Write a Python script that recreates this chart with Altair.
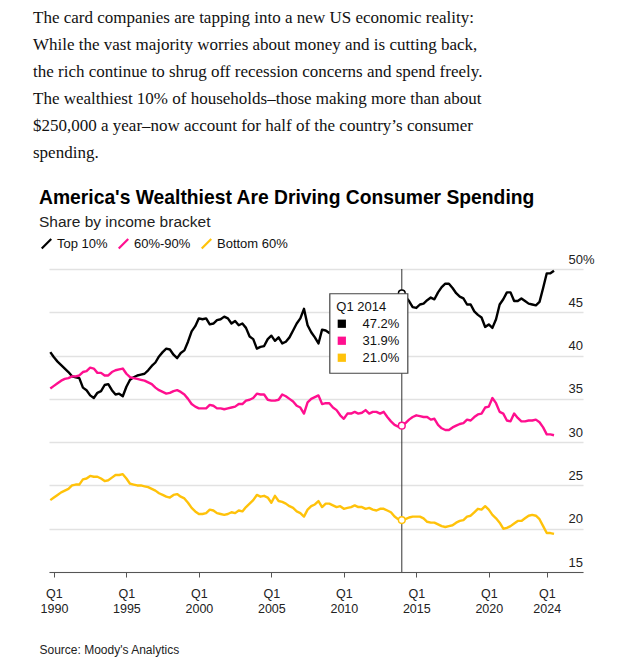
import altair as alt
import pandas as pd

PARAGRAPH = [
    "The card companies are tapping into a new US economic reality:",
    "While the vast majority worries about money and is cutting back,",
    "the rich continue to shrug off recession concerns and spend freely.",
    "The wealthiest 10% of households\u2013those making more than about",
    "$250,000 a year\u2013now account for half of the country\u2019s consumer",
    "spending.",
]
TITLE = "America's Wealthiest Are Driving Consumer Spending"
SUBTITLE = "Share by income bracket"
SOURCE = "Source: Moody's Analytics"

SERIES = ["Top 10%", "60%-90%", "Bottom 60%"]
COLORS = ["#000000", "#ff0f8f", "#ffc20a"]

START_YEAR, START_Q = 1989, 4
HOVER = "Q1 2014"
X_TICKS = [1990, 1995, 2000, 2005, 2010, 2015, 2020, 2024]
Y_TICKS = [15, 20, 25, 30, 35, 40, 45, 50]

# quarterly shares (%), Q4 1989 .. Q3 2024
TOP10 = (
    [40.4]
    + [39.8, 39.3, 38.9, 38.5] + [38.1, 37.6, 37.5, 37.4] + [36.3, 36.0, 35.4, 35.1]
    + [35.7, 35.9, 36.6, 36.7] + [36.0, 35.5, 35.6, 35.3] + [36.4, 37.2, 37.5, 37.7]
    + [37.8, 37.9, 38.3, 38.8] + [39.2, 39.9, 40.4, 40.8] + [40.7, 40.1, 39.7, 40.3]
    + [40.6, 41.6, 42.8, 43.4] + [44.3, 44.2, 44.3, 43.6] + [43.7, 44.1, 44.2, 44.5]
    + [44.3, 43.7, 44.0, 43.5] + [43.7, 43.2, 42.2, 41.9] + [40.8, 41.0, 41.1, 41.9]
    + [42.3, 41.7, 42.1, 41.4] + [41.6, 42.1, 42.9, 43.7] + [44.3, 45.4, 43.5, 42.7]
    + [42.1, 41.4, 43.0, 42.9] + [42.6, 42.9, 43.3, 43.1] + [43.6, 44.0, 43.8, 44.3]
    + [44.6, 44.4, 44.9, 45.3] + [45.1, 45.5, 45.9, 45.7] + [46.1, 46.4, 46.3, 46.8]
    + [47.2, 46.8, 46.3, 45.6] + [45.5, 45.9, 46.0, 46.4] + [46.7, 46.5, 47.3, 47.9]
    + [48.3, 48.3, 47.8, 47.2] + [46.8, 46.6, 45.9, 45.9] + [45.1, 44.7, 44.4, 43.3]
    + [43.6, 43.2, 44.2, 45.9] + [46.5, 47.3, 47.3, 46.3] + [46.3, 46.6, 46.3, 46.0]
    + [45.9, 45.8, 46.2, 47.8] + [49.5, 49.5, 49.8]
)
MID = (
    [36.2]
    + [36.5, 36.8, 37.1, 37.3] + [37.4, 37.6, 37.6, 37.7] + [38.1, 38.2, 38.6, 38.5]
    + [38.0, 38.0, 37.7, 37.7] + [38.1, 38.3, 38.4, 38.5] + [37.9, 37.5, 37.4, 37.3]
    + [37.2, 37.1, 36.9, 36.7] + [36.3, 36.0, 35.8, 35.6] + [35.7, 35.9, 36.0, 35.8]
    + [35.5, 35.0, 34.4, 34.1] + [33.9, 33.9, 33.9, 34.3] + [34.2, 33.9, 33.9, 33.8]
    + [33.9, 34.0, 34.1, 34.4] + [34.4, 34.8, 34.9, 35.1] + [35.6, 35.5, 35.5, 34.9]
    + [34.8, 34.8, 34.9, 35.5] + [35.3, 35.0, 34.7, 34.2] + [34.0, 33.3, 34.6, 35.0]
    + [35.2, 35.4, 34.4, 34.5] + [34.5, 34.0, 33.7, 33.1] + [32.7, 33.3, 33.3, 33.5]
    + [33.3, 33.4, 33.7, 33.3] + [33.5, 33.5, 33.3, 33.5] + [32.9, 32.4, 32.0, 31.8]
    + [31.9, 32.2, 32.6, 32.9] + [33.1, 33.0, 32.9, 32.9] + [32.6, 32.7, 32.0, 31.6]
    + [31.4, 31.4, 31.7, 31.9] + [32.1, 32.2, 32.6, 32.5] + [32.9, 33.2, 33.3, 34.0]
    + [34.1, 35.1, 34.5, 33.5] + [33.3, 32.5, 32.4, 33.3] + [32.8, 32.4, 32.4, 32.5]
    + [32.5, 32.6, 32.3, 31.7] + [30.9, 30.9, 30.8]
)
BOTTOM = (
    [23.3]
    + [23.6, 23.9, 24.2, 24.4] + [24.6, 25.0, 25.1, 25.1] + [25.7, 25.8, 26.1, 26.0]
    + [26.0, 25.8, 25.5, 25.6] + [25.9, 26.2, 26.2, 26.3] + [25.8, 25.2, 25.1, 25.0]
    + [25.0, 24.9, 24.8, 24.6] + [24.4, 24.1, 23.9, 23.7] + [23.6, 23.9, 24.0, 23.7]
    + [23.5, 23.0, 22.4, 22.0] + [21.7, 21.7, 21.8, 22.2] + [22.1, 21.8, 21.7, 21.6]
    + [21.7, 21.9, 21.8, 22.1] + [22.0, 22.5, 22.9, 23.3] + [23.9, 23.7, 23.8, 23.6]
    + [23.0, 23.8, 23.2, 23.1] + [22.9, 22.6, 22.4, 22.0] + [21.8, 21.4, 22.2, 22.6]
    + [22.8, 23.2, 22.5, 22.9] + [22.9, 22.7, 22.5, 22.6] + [22.3, 22.4, 22.5, 22.7]
    + [22.5, 22.5, 22.3, 22.4] + [22.2, 22.1, 22.3, 22.3] + [22.1, 21.9, 21.4, 21.1]
    + [21.0, 21.1, 21.3, 21.4] + [21.4, 21.4, 21.2, 20.8] + [20.7, 20.7, 20.5, 20.3]
    + [20.2, 20.3, 20.4, 20.7] + [20.9, 21.0, 21.4, 21.5] + [21.9, 22.3, 22.2, 22.6]
    + [22.2, 21.6, 21.2, 20.7] + [20.0, 20.1, 20.3, 20.6] + [20.9, 20.9, 21.2, 21.5]
    + [21.6, 21.5, 21.1, 20.3] + [19.5, 19.5, 19.4]
)

FONT = "Liberation Sans"

rows = []
for i in range(len(TOP10)):
    year, q = divmod(START_YEAR * 4 + (START_Q - 1) + i, 4)
    for name, vals in zip(SERIES, (TOP10, MID, BOTTOM)):
        rows.append({"t": year + q / 4, "quarter": f"Q{q + 1} {year}",
                     "series": name, "value": vals[i]})
df = pd.DataFrame(rows)

hov = df[df["quarter"] == HOVER].copy()
anchor = float(hov.loc[hov["series"] == SERIES[0], "value"].iloc[0])
hov["anchor"] = anchor
hov["text"] = hov["value"].map(lambda v: f"{v:.1f}%")
hov_one = hov[hov["series"] == SERIES[0]]

x_scale = alt.Scale(domain=[1989.66, 2026.5], nice=False, zero=False)
y_scale = alt.Scale(domain=[15, 50], nice=False, zero=False)

x_axis = alt.Axis(
    values=X_TICKS, format="d", labelExpr="['Q1', datum.label]",
    grid=False, domainColor="#555", domainWidth=1, tickColor="#555", tickSize=5,
    labelFont=FONT, labelFontSize=12.5, labelColor="#222", labelLineHeight=15.5,
    labelBaseline="top", labelPadding=10, labelFlush=False, labelOverlap=False,
    title=SOURCE, titleFont=FONT, titleFontSize=12, titleFontWeight="normal",
    titleColor="#222", titleAnchor="start", titleAlign="left", titleBaseline="middle",
    titleX=-10, titleY=77,
)
y_axis = alt.Axis(
    orient="right", values=Y_TICKS, title=None,
    labelExpr="datum.value == 50 ? '50%' : datum.label",
    domain=False, ticks=False, tickSize=0, grid=True, gridColor="#e2e2e2", gridWidth=1.3,
    labelAlign="left", labelPadding=-15, labelBaseline="alphabetic", labelOffset=-6,
    labelFont=FONT, labelFontSize=13, labelColor="#222", labelFlush=False, labelOverlap=False,
)

x_enc = alt.X("t:Q", scale=x_scale, axis=x_axis)
y_enc = alt.Y("value:Q", scale=y_scale, axis=y_axis)
ya_enc = alt.Y("anchor:Q", scale=y_scale, axis=y_axis)

legend = alt.Legend(
    title=None, orient="none", legendX=-9, legendY=-32, direction="horizontal",
    symbolType="M-1,1L1,-1", symbolSize=90, symbolStrokeWidth=2.2,
    labelFont=FONT, labelFontSize=13, labelColor="#111", labelOffset=4,
    columnPadding=6, padding=0,
)

lines = alt.Chart(df).mark_line(strokeWidth=2.4, strokeJoin="round").encode(
    x=x_enc, y=y_enc,
    color=alt.Color("series:N", scale=alt.Scale(domain=SERIES, range=COLORS), legend=legend),
)

rule = alt.Chart(hov_one).mark_rule(color="#333", strokeWidth=1).encode(x=x_enc)

circles = [
    alt.Chart(hov[hov["series"] == name]).mark_circle(
        fill="white", stroke=c, strokeWidth=1.5, size=45, opacity=1
    ).encode(x=x_enc, y=y_enc)
    for name, c in zip(SERIES, COLORS)
]

box = alt.Chart(hov_one).mark_rect(
    fill="white", stroke="#444", strokeWidth=1.2,
    xOffset=-72, x2Offset=6, yOffset=0.5, y2Offset=80,
).encode(x=x_enc, x2="t:Q", y=ya_enc, y2="anchor:Q")

head = alt.Chart(hov_one).mark_text(
    align="left", baseline="middle", dx=-65.5, dy=13.5, font=FONT, fontSize=13, color="#111"
).encode(x=x_enc, y=ya_enc, text="quarter:N")

tip_rows = []
for i, (name, c) in enumerate(zip(SERIES, COLORS)):
    sub = hov[hov["series"] == name]
    tip_rows.append(
        alt.Chart(sub).mark_square(size=68, color=c, opacity=1, xOffset=-60,
                                   yOffset=30.5 + 17 * i).encode(x=x_enc, y=ya_enc)
    )
    tip_rows.append(
        alt.Chart(sub).mark_text(align="right", baseline="middle", dx=-2.5,
                                 dy=30.5 + 17 * i, font=FONT, fontSize=13, color="#111"
                                 ).encode(x=x_enc, y=ya_enc, text="text:N")
    )

main = alt.layer(lines, rule, *circles, box, head, *tip_rows).properties(
    width=534, height=303,
    title=alt.TitleParams(
        text=TITLE, subtitle=SUBTITLE, font=FONT, fontSize=19.3, fontWeight="bold",
        color="#000", subtitleFont=FONT, subtitleFontSize=15.5, subtitleColor="#222",
        subtitlePadding=6, anchor="start", frame="group", dx=-10, offset=23,
    ),
)

chart = alt.vconcat(main).properties(
    title=alt.TitleParams(
        text=PARAGRAPH, font="Liberation Serif", fontSize=17, fontWeight="normal",
        color="#111", anchor="start", lineHeight=27, dx=-6, offset=27.5,
    ),
    padding={"left": 25, "top": 0, "right": 8, "bottom": 4},
    background="white",
).configure(font=FONT).configure_view(stroke=None)

chart.save("out.html", embed_options={"renderer": "svg", "actions": False})
